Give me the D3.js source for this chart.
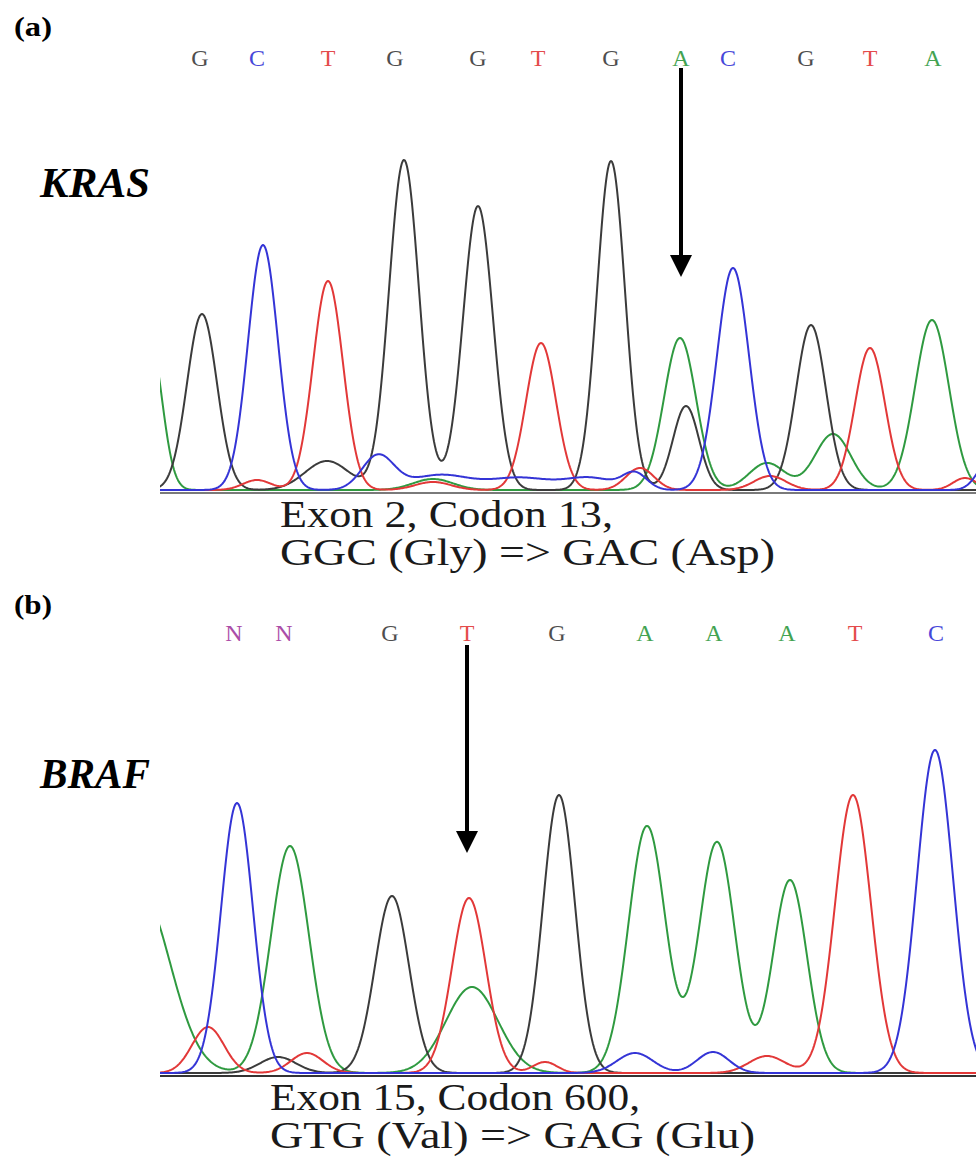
<!DOCTYPE html>
<html lang="en">
<head>
    <meta charset="UTF-8">
    <title>KRAS / BRAF sequencing chromatograms</title>
    <script src="https://d3js.org/d3.v7.min.js"></script>
    <style>
        body { margin: 0; background: #fff; }
        svg { display: block; }
        text { font-family: "Liberation Serif", "Times New Roman", Times, serif; }
    </style>
</head>
<body>
    <div id="chart"></div>
    <script>
        // ---- panel (a) KRAS ----
        const kBases = ["G", "C", "T", "G", "G", "T", "G", "A", "C", "G", "T", "A"];
        const kBasePos = [40, 97, 168, 235, 318, 378, 451, 521, 568, 646, 710, 773];
        // peaks: [scan position, height, width]
        const kPeaksA = [[-10, 150, 12], [273, 11, 20], [520, 152, 16], [607, 27, 18], [673, 56, 18], [772, 170, 17]];
        const kPeaksG = [[42, 176, 15], [167, 29, 22], [244, 330, 15], [318, 284, 15], [451, 329, 14], [526, 84, 13], [651, 165, 15]];
        const kPeaksT = [[97, 10, 14], [168, 209, 15], [273, 8, 18], [381, 147, 15], [480, 22, 14], [610, 14, 16], [710, 142, 15], [805, 12, 12]];
        const kPeaksC = [[103, 245, 15], [218, 34, 16], [280, 15, 30], [360, 12, 30], [430, 12, 25], [475, 16, 12], [573, 222, 16], [830, 30, 12]];

        // ---- panel (b) BRAF ----
        const bBases = ["N", "N", "G", "T", "G", "A", "A", "A", "T", "C"];
        const bBasePos = [74, 124, 230, 307, 397, 485, 554, 627, 695, 776];
        const bPeaksA = [[-20, 182, 30], [130, 227, 19], [312, 86, 26], [487, 247, 18.5], [557, 231, 18], [630, 193, 17]];
        const bPeaksG = [[118, 16, 18], [232, 177, 17], [399, 278, 16]];
        const bPeaksT = [[48, 46, 16], [147, 20, 16], [309, 175, 17], [385, 11, 12], [607, 17, 18], [693, 278, 18]];
        const bPeaksC = [[77, 270, 16], [475, 20, 18], [553, 21, 16], [775, 323, 18]];

        const colors = { G: "#3b3b3b", A: "#2f9a40", T: "#e23838", C: "#3434d6", N: "#a23a9e" };

        const width = 976, height = 1159;

        const svg = d3.select("#chart")
            .append("svg")
            .attr("width", width)
            .attr("height", height);

        const panels = [
            {
                id: "a", label: "(a)", labelY: 36, gene: "KRAS", geneY: 197,
                base: 490, axisColor: "#7a7a7a",
                bases: kBases, basePos: kBasePos, baseY: 66,
                peaks: { A: kPeaksA, G: kPeaksG, T: kPeaksT, C: kPeaksC },
                arrow: { pos: 521, from: 68, tip: 213 },
                notes: [
                    { text: "Exon 2, Codon 13,", x: 280, y: 527, len: 333 },
                    { text: "GGC (Gly) => GAC (Asp)", x: 280, y: 565, len: 495 }
                ]
            },
            {
                id: "b", label: "(b)", labelY: 614, gene: "BRAF", geneY: 788,
                base: 1073, axisColor: "#333",
                bases: bBases, basePos: bBasePos, baseY: 641,
                peaks: { A: bPeaksA, G: bPeaksG, T: bPeaksT, C: bPeaksC },
                arrow: { pos: 307, from: 645, tip: 220 },
                notes: [
                    { text: "Exon 15, Codon 600,", x: 270, y: 1110, len: 370 },
                    { text: "GTG (Val) => GAG (Glu)", x: 270, y: 1148, len: 485 }
                ]
            }
        ];

        const x = d3.scaleLinear().domain([0, 816]).range([160, 976]);
        const scan = d3.range(-30, 840, 1);

        panels.forEach(function(p) {
            const y = d3.scaleLinear().domain([0, 340]).range([p.base, p.base - 340]);
            const g = svg.append("g");

            // panel letter and gene name
            g.append("text")
                .attr("x", 14).attr("y", p.labelY)
                .attr("font-weight", "bold")
                .attr("font-size", 28)
                .attr("textLength", 38).attr("lengthAdjust", "spacingAndGlyphs")
                .text(p.label);

            g.append("text")
                .attr("x", 40).attr("y", p.geneY)
                .attr("font-weight", "bold")
                .attr("font-style", "italic")
                .attr("font-size", 42)
                .attr("textLength", 110).attr("lengthAdjust", "spacingAndGlyphs")
                .text(p.gene);

            // base calls
            g.selectAll(".base")
                .data(p.bases)
                .enter()
                .append("text")
                .attr("class", "base")
                .attr("x", (d, i) => x(p.basePos[i]))
                .attr("y", p.baseY)
                .attr("text-anchor", "middle")
                .attr("font-size", 24)
                .attr("fill", d => colors[d])
                .attr("opacity", 0.9)
                .text(d => d);

            // baseline
            g.append("line")
                .attr("x1", x(0)).attr("x2", x(816))
                .attr("y1", y(0) + 3).attr("y2", y(0) + 3)
                .attr("stroke", p.axisColor)
                .attr("stroke-width", 2);

            const clipId = "clip-" + p.id;
            g.append("clipPath").attr("id", clipId)
                .append("rect")
                .attr("x", x(0)).attr("y", y(345))
                .attr("width", x(816) - x(0))
                .attr("height", y(0) - y(345) + 4);

            const line = d3.line()
                .x(d => x(d[0]))
                .y(d => y(d[1]));

            ["A", "G", "T", "C"].forEach(function(ch) {
                const pts = scan.map(t => [t, d3.sum(p.peaks[ch], pk =>
                    pk[1] * Math.exp(-((t - pk[0]) ** 2) / (2 * pk[2] * pk[2])))]);
                g.append("path")
                    .datum(pts)
                    .attr("clip-path", "url(#" + clipId + ")")
                    .attr("fill", "none")
                    .attr("stroke", colors[ch])
                    .attr("stroke-width", 2)
                    .attr("stroke-linejoin", "round")
                    .attr("d", line);
            });

            // mutation arrow
            const ax = x(p.arrow.pos);
            const tipY = y(p.arrow.tip);
            g.append("line")
                .attr("x1", ax).attr("x2", ax)
                .attr("y1", p.arrow.from).attr("y2", tipY - 12)
                .attr("stroke", "#000")
                .attr("stroke-width", 4);
            g.append("path")
                .attr("d", `M${ax - 11},${tipY - 22} L${ax + 11},${tipY - 22} L${ax},${tipY} Z`)
                .attr("fill", "#000");

            // annotation
            g.selectAll(".note")
                .data(p.notes)
                .enter()
                .append("text")
                .attr("class", "note")
                .attr("x", d => d.x).attr("y", d => d.y)
                .attr("font-size", 38)
                .attr("fill", "#1a1a1a")
                .attr("textLength", d => d.len).attr("lengthAdjust", "spacingAndGlyphs")
                .text(d => d.text);
        });
    </script>
</body>
</html>
